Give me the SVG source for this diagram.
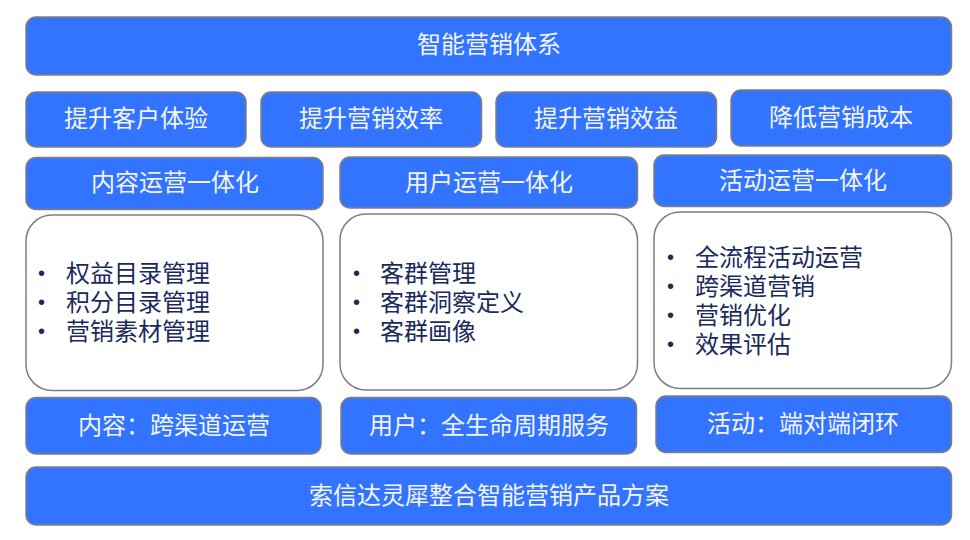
<svg xmlns="http://www.w3.org/2000/svg" width="970" height="540" viewBox="0 0 970 540">
<style>
.b{fill:#3274FF;stroke:#7F7F7F;stroke-width:1.5}
.w{fill:#FFFFFF;stroke:#7F7F7F;stroke-width:1.5}
.t{font-family:"Microsoft YaHei","Noto Sans CJK SC",sans-serif;font-size:24px;fill:#F4F4F4;text-anchor:middle}
.i{font-family:"Microsoft YaHei","Noto Sans CJK SC",sans-serif;font-size:24px;fill:#1B2A5C}
.d{font-family:"Liberation Sans",sans-serif;font-size:20px}
</style>
<rect width="970" height="540" fill="#FFFFFF"/>
<g id="top"><rect class="b" x="26" y="17" width="925.5" height="58" rx="10"/><text class="t" x="489" y="53">智能营销体系</text></g>
<g id="g1"><rect class="b" x="26" y="92" width="220" height="55" rx="10"/><text class="t" x="136" y="127">提升客户体验</text></g>
<g id="g2"><rect class="b" x="261" y="92" width="220.5" height="55" rx="10"/><text class="t" x="371" y="127">提升营销效率</text></g>
<g id="g3"><rect class="b" x="496" y="92" width="220.5" height="55" rx="10"/><text class="t" x="606" y="127">提升营销效益</text></g>
<g id="g4"><rect class="b" x="731" y="90" width="220.5" height="56" rx="10"/><text class="t" x="841" y="126">降低营销成本</text></g>
<g id="h1"><rect class="b" x="26" y="157.5" width="297" height="52" rx="10"/><text class="t" x="175" y="191">内容运营一体化</text></g>
<g id="h2"><rect class="b" x="340" y="157" width="297.5" height="51" rx="10"/><text class="t" x="489" y="190.5">用户运营一体化</text></g>
<g id="h3"><rect class="b" x="654" y="155" width="297.5" height="51.5" rx="10"/><text class="t" x="803" y="189">活动运营一体化</text></g>
<g id="c1"><rect class="w" x="26" y="215" width="297" height="175.5" rx="26"/>
<text class="i"><tspan class="d" x="38" y="280">•</tspan><tspan x="66" y="282">权益目录管理</tspan><tspan class="d" x="38" y="309">•</tspan><tspan x="66" y="311">积分目录管理</tspan><tspan class="d" x="38" y="338">•</tspan><tspan x="66" y="340">营销素材管理</tspan></text></g>
<g id="c2"><rect class="w" x="340" y="214" width="297.5" height="176" rx="26"/>
<text class="i"><tspan class="d" x="353" y="280">•</tspan><tspan x="380" y="282">客群管理</tspan><tspan class="d" x="353" y="309">•</tspan><tspan x="380" y="311">客群洞察定义</tspan><tspan class="d" x="353" y="338">•</tspan><tspan x="380" y="340">客群画像</tspan></text></g>
<g id="c3"><rect class="w" x="654" y="212" width="297.5" height="176.5" rx="26"/>
<text class="i"><tspan class="d" x="667" y="264">•</tspan><tspan x="695" y="266">全流程活动运营</tspan><tspan class="d" x="667" y="293">•</tspan><tspan x="695" y="295">跨渠道营销</tspan><tspan class="d" x="667" y="322">•</tspan><tspan x="695" y="324">营销优化</tspan><tspan class="d" x="667" y="350.5">•</tspan><tspan x="695" y="352.5">效果评估</tspan></text></g>
<g id="f1"><rect class="b" x="26" y="397.5" width="295" height="56.5" rx="10"/><text class="t" x="174" y="434">内容：跨渠道运营</text></g>
<g id="f2"><rect class="b" x="341" y="397.5" width="295.5" height="56.5" rx="10"/><text class="t" x="489" y="434">用户：全生命周期服务</text></g>
<g id="f3"><rect class="b" x="656" y="396" width="295.5" height="56.5" rx="10"/><text class="t" x="803" y="432">活动：端对端闭环</text></g>
<g id="bottom"><rect class="b" x="26" y="467" width="925.5" height="58" rx="10"/><text class="t" x="489" y="504">索信达灵犀整合智能营销产品方案</text></g>
<g id="connectors"/>
</svg>
